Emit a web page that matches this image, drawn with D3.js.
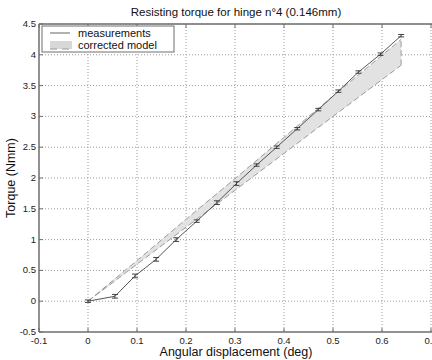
<!DOCTYPE html>
<html>
<head>
<meta charset="utf-8">
<script src="https://cdn.jsdelivr.net/npm/d3@7.9.0/dist/d3.min.js"></script>
<style>
  html, body { margin: 0; padding: 0; background: #fff; }
  svg { display: block; font-family: "Liberation Sans", Arial, sans-serif; }
</style>
</head>
<body>
<svg id="chart" width="432" height="360"></svg>
<script>
// measured points (deg, Nmm) with error bars
const angle  = [0, 0.055, 0.096, 0.139, 0.18, 0.222, 0.263, 0.303, 0.344, 0.385, 0.427, 0.47, 0.511, 0.552, 0.597, 0.639];
const torque = [0, 0.08, 0.41, 0.68, 1.0, 1.30, 1.60, 1.91, 2.21, 2.50, 2.80, 3.11, 3.41, 3.72, 4.01, 4.31];
const torqueErr = [0.02, 0.03, 0.03, 0.03, 0.03, 0.02, 0.03, 0.03, 0.02, 0.02, 0.02, 0.02, 0.02, 0.02, 0.02, 0.02];

// corrected model band (upper / lower bound)
const modelAngle = [0, 0.1, 0.2, 0.3, 0.4, 0.5, 0.639];
const modelUpper = [0, 0.66, 1.33, 1.99, 2.66, 3.33, 4.25];
const modelLower = [0, 0.60, 1.20, 1.80, 2.40, 3.00, 3.83];

const xTicks = [-0.1, 0, 0.1, 0.2, 0.3, 0.4, 0.5, 0.6, 0.7];
const yTicks = [-0.5, 0, 0.5, 1, 1.5, 2, 2.5, 3, 3.5, 4, 4.5];

const svg = d3.select("#chart");

// plot frame: right side of the original figure is cut off
const pLeft = 39, pTop = 24, pBottom = 332;
const x = d3.scaleLinear().domain([-0.1, 0.7]).range([pLeft, 431]);
const y = d3.scaleLinear().domain([-0.5, 4.5]).range([pBottom, pTop]);
const pRight = x(0.8);

const axisCol = "#6e6e6e";
const gridCol = "#9a9a9a";

// grid
const grid = svg.append("g");
grid.selectAll("line.gx")
  .data(xTicks.slice(1))
  .enter().append("line")
  .attr("x1", d => x(d)).attr("x2", d => x(d))
  .attr("y1", pTop).attr("y2", pBottom)
  .attr("stroke", gridCol).attr("stroke-width", 1)
  .attr("stroke-dasharray", "1,2");
grid.selectAll("line.gy")
  .data(yTicks.slice(1))
  .enter().append("line")
  .attr("x1", pLeft).attr("x2", pRight)
  .attr("y1", d => y(d)).attr("y2", d => y(d))
  .attr("stroke", gridCol).attr("stroke-width", 1)
  .attr("stroke-dasharray", "1,2");

// model band
const band = modelAngle.map((a, i) => ({ a, hi: modelUpper[i], lo: modelLower[i] }));
const area = d3.area()
  .x(d => x(d.a))
  .y0(d => y(d.lo))
  .y1(d => y(d.hi));
svg.append("path")
  .attr("d", area(band))
  .attr("fill", "#e2e2e2")
  .attr("stroke", "none");
// dashed edges of the band
const edge = d3.line().x(d => x(d[0])).y(d => y(d[1]));
const upperPts = modelAngle.map((a, i) => [a, modelUpper[i]]);
const lowerPts = modelAngle.map((a, i) => [a, modelLower[i]]);
const last = modelAngle.length - 1;
[upperPts, lowerPts, [[modelAngle[last], modelLower[last]], [modelAngle[last], modelUpper[last]]]]
  .forEach(pts => {
    svg.append("path")
      .attr("d", edge(pts))
      .attr("fill", "none")
      .attr("stroke", "#9c9c9c")
      .attr("stroke-width", 1)
      .attr("stroke-dasharray", "6,3");
  });

// measurements
const meas = angle.map((a, i) => ({ a, t: torque[i], e: torqueErr[i] }));
svg.append("path")
  .attr("d", d3.line().x(d => x(d.a)).y(d => y(d.t))(meas))
  .attr("fill", "none")
  .attr("stroke", "#555")
  .attr("stroke-width", 1);

const eb = svg.append("g").attr("stroke", "#444").attr("stroke-width", 1);
meas.forEach(d => {
  const cx = x(d.a);
  eb.append("line").attr("x1", cx).attr("x2", cx)
    .attr("y1", y(d.t - d.e)).attr("y2", y(d.t + d.e));
  [d.t - d.e, d.t + d.e].forEach(v => {
    eb.append("line").attr("x1", cx - 3).attr("x2", cx + 3)
      .attr("y1", y(v)).attr("y2", y(v));
  });
});

// axes box (left, top, bottom)
svg.append("line").attr("x1", pLeft).attr("x2", pLeft).attr("y1", pTop).attr("y2", pBottom)
  .attr("stroke", axisCol).attr("stroke-width", 1.5);
svg.append("line").attr("x1", pLeft).attr("x2", pRight).attr("y1", pBottom).attr("y2", pBottom)
  .attr("stroke", axisCol).attr("stroke-width", 1.5);
svg.append("line").attr("x1", pLeft).attr("x2", pRight).attr("y1", pTop).attr("y2", pTop)
  .attr("stroke", axisCol).attr("stroke-width", 1.5);

// inward ticks
xTicks.forEach(t => {
  svg.append("line").attr("x1", x(t)).attr("x2", x(t))
    .attr("y1", pBottom).attr("y2", pBottom - 4).attr("stroke", axisCol);
  svg.append("line").attr("x1", x(t)).attr("x2", x(t))
    .attr("y1", pTop).attr("y2", pTop + 4).attr("stroke", axisCol);
});
yTicks.forEach(t => {
  svg.append("line").attr("x1", pLeft).attr("x2", pLeft + 4)
    .attr("y1", y(t)).attr("y2", y(t)).attr("stroke", axisCol);
});

// tick labels
const fmt = d => String(+d.toFixed(2));
svg.selectAll("text.xt")
  .data(xTicks)
  .enter().append("text")
  .attr("x", d => x(d)).attr("y", pBottom + 12)
  .attr("text-anchor", "middle")
  .attr("font-size", 9.5)
  .attr("fill", "#222")
  .text(fmt);
svg.selectAll("text.yt")
  .data(yTicks)
  .enter().append("text")
  .attr("x", pLeft - 3).attr("y", d => y(d) + 3)
  .attr("text-anchor", "end")
  .attr("font-size", 9.5)
  .attr("fill", "#222")
  .text(fmt);

// titles
svg.append("text")
  .attr("x", 236).attr("y", 16)
  .attr("text-anchor", "middle")
  .attr("font-size", 11.5)
  .attr("fill", "#111")
  .text("Resisting torque for hinge n°4 (0.146mm)");
svg.append("text")
  .attr("x", 236).attr("y", 356)
  .attr("text-anchor", "middle")
  .attr("font-size", 12.5)
  .attr("fill", "#111")
  .text("Angular displacement (deg)");
svg.append("text")
  .attr("transform", `translate(15,${(pTop + pBottom) / 2}) rotate(-90)`)
  .attr("text-anchor", "middle")
  .attr("font-size", 12.5)
  .attr("fill", "#111")
  .text("Torque (Nmm)");

// legend
const lg = svg.append("g").attr("transform", "translate(42,26)");
lg.append("rect")
  .attr("width", 132).attr("height", 26)
  .attr("fill", "#fff").attr("stroke", axisCol).attr("stroke-width", 1);
lg.append("line")
  .attr("x1", 8).attr("x2", 28).attr("y1", 7).attr("y2", 7)
  .attr("stroke", "#666").attr("stroke-width", 1);
lg.append("text")
  .attr("x", 36).attr("y", 11)
  .attr("font-size", 11).attr("fill", "#111")
  .text("measurements");
lg.append("rect")
  .attr("x", 8).attr("y", 15).attr("width", 22).attr("height", 8)
  .attr("fill", "#d8d8d8");
lg.append("line")
  .attr("x1", 8).attr("x2", 30).attr("y1", 23).attr("y2", 23)
  .attr("stroke", "#999").attr("stroke-dasharray", "7,5");
lg.append("text")
  .attr("x", 36).attr("y", 23)
  .attr("font-size", 11).attr("fill", "#111")
  .text("corrected model");
</script>
</body>
</html>
